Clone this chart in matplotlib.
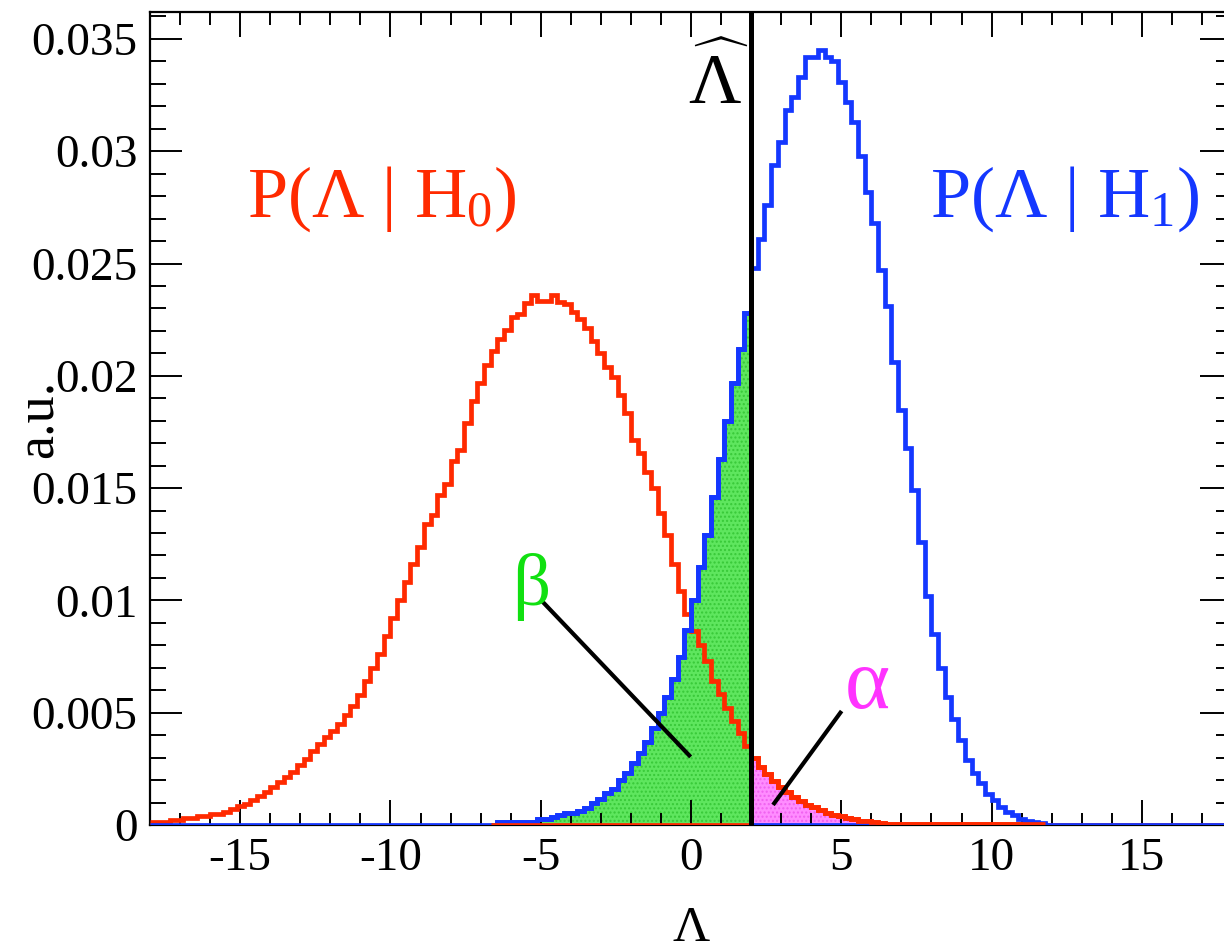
import numpy as np
import matplotlib
matplotlib.use("Agg")
import matplotlib.pyplot as plt
from matplotlib.ticker import FixedLocator, MultipleLocator

plt.rcParams['font.family'] = ['Liberation Serif', 'DejaVu Serif']
plt.rcParams['mathtext.fontset'] = 'custom'
plt.rcParams['mathtext.rm'] = 'Liberation Serif'
plt.rcParams['mathtext.it'] = 'Liberation Serif:italic'
plt.rcParams['axes.unicode_minus'] = False
plt.rcParams['hatch.linewidth'] = 1.0

# ---- histogram binning ----
X_MIN, X_MAX, N_BINS = -18.0, 18.0, 162
Y_MAX = 0.0362
LAMBDA_CUT = 2.0          # position of the decision threshold Lambda-hat
FILL_LO = -6.67           # lower end of the shaded alpha / beta histograms
BETA_HI = 6.33            # upper end of the beta histogram
ALPHA_HI = 11.67          # upper end of the alpha histogram

# ---- bin contents, in units of 1e-3 ----
p_lambda_h0 = [
    0.12, 0.12, 0.13, 0.21, 0.22, 0.30, 0.33, 0.39, 0.41, 0.48,
    0.50, 0.60, 0.72, 0.83, 0.95, 1.12, 1.27, 1.48, 1.68, 1.93,
    2.15, 2.38, 2.65, 2.95, 3.30, 3.60, 3.90, 4.20, 4.50, 4.90,
    5.30, 5.80, 6.40, 7.00, 7.60, 8.40, 9.20, 10.0, 10.8, 11.6,
    12.4, 13.4, 13.8, 14.7, 15.2, 16.2, 16.7, 17.9, 18.9, 19.7,
    20.5, 21.1, 21.65, 22.05, 22.6, 22.75, 23.25, 23.6, 23.35, 23.35,
    23.6, 23.3, 23.2, 22.85, 22.55, 22.15, 21.55, 21.0, 20.4, 19.95,
    19.15, 18.35, 17.15, 16.55, 15.7, 15.0, 13.9, 12.9, 11.6, 10.4,
    9.4, 8.65, 8.0, 7.3, 6.4, 5.85, 5.2, 4.65, 4.1, 3.5,
    3.0, 2.6, 2.25, 1.95, 1.7, 1.45, 1.25, 1.05, 0.9, 0.78,
    0.66, 0.55, 0.46, 0.38, 0.31, 0.25, 0.2, 0.16, 0.13, 0.1,
    0.06, 0.06, 0.06, 0.06, 0.06, 0.06, 0.06, 0.06, 0.06, 0.06,
    0.06, 0.04, 0.04, 0.04, 0.04, 0.04, 0.04, 0.04, 0.04, 0.04,
    0.04, 0.04, 0.04, 0.04, 0.0, 0.0, 0.0, 0.0, 0.0, 0.0,
    0.0, 0.0, 0.0, 0.0, 0.0, 0.0, 0.0, 0.0, 0.0, 0.0,
    0.0, 0.0, 0.0, 0.0, 0.0, 0.0, 0.0, 0.0, 0.0, 0.0,
    0.0, 0.0,
]

p_lambda_h1 = [
    0.0, 0.0, 0.0, 0.0, 0.0, 0.0, 0.0, 0.0, 0.0, 0.0,
    0.0, 0.0, 0.0, 0.0, 0.0, 0.0, 0.0, 0.0, 0.0, 0.0,
    0.0, 0.0, 0.0, 0.0, 0.0, 0.0, 0.0, 0.0, 0.0, 0.0,
    0.0, 0.0, 0.0, 0.0, 0.0, 0.0, 0.0, 0.0, 0.0, 0.0,
    0.0, 0.0, 0.0, 0.0, 0.0, 0.0, 0.0, 0.0, 0.0, 0.0,
    0.0, 0.0, 0.15, 0.15, 0.15, 0.15, 0.15, 0.15, 0.25, 0.25,
    0.37, 0.44, 0.52, 0.52, 0.64, 0.77, 0.96, 1.14, 1.41, 1.6,
    2.0, 2.3, 2.74, 3.2, 3.7, 4.3, 5.0, 5.7, 6.5, 7.5,
    8.7, 10.0, 11.5, 12.9, 14.6, 16.3, 18.0, 19.7, 21.2, 22.8,
    24.8, 26.1, 27.6, 29.4, 30.4, 31.85, 32.4, 33.3, 34.2, 34.2,
    34.5, 34.2, 34.0, 33.1, 32.2, 31.3, 29.8, 28.2, 26.8, 24.7,
    23.1, 20.6, 18.5, 16.8, 14.9, 12.6, 10.2, 8.5, 7.0, 5.7,
    4.7, 3.8, 2.9, 2.3, 1.85, 1.4, 1.1, 0.82, 0.6, 0.44,
    0.25, 0.2, 0.15, 0.07, 0.0, 0.0, 0.0, 0.0, 0.0, 0.0,
    0.0, 0.0, 0.0, 0.0, 0.0, 0.0, 0.0, 0.0, 0.0, 0.0,
    0.0, 0.0, 0.0, 0.0, 0.0, 0.0, 0.0, 0.0, 0.0, 0.0,
    0.0, 0.0,
]

x_ticks = [-15, -10, -5, 0, 5, 10, 15]
x_tick_labels = ['-15', '-10', '-5', '0', '5', '10', '15']
y_ticks = [0.0, 0.005, 0.01, 0.015, 0.02, 0.025, 0.03, 0.035]
y_tick_labels = ['0', '0.005', '0.01', '0.015', '0.02', '0.025', '0.03', '0.035']

RED = '#ff2a00'
BLUE = '#1437ff'
GREEN_TXT = '#11e011'
GREEN_FILL = '#5ee65e'
GREEN_DOTS = '#38c838'
MAGENTA_TXT = '#ff33ff'
MAGENTA_FILL = '#ff8cff'
MAGENTA_DOTS = '#f060f0'

h0 = np.array(p_lambda_h0) * 1e-3
h1 = np.array(p_lambda_h1) * 1e-3
edges = np.linspace(X_MIN, X_MAX, N_BINS + 1)
centers = 0.5 * (edges[:-1] + edges[1:])

fig = plt.figure(figsize=(12.24, 9.51), dpi=100)
ax = fig.add_axes([150 / 1224, 126 / 951, 1082 / 1224, 813 / 951])

# shaded tails: beta = H1 below the cut, alpha = H0 above the cut
beta_sel = (centers > FILL_LO) & (centers < BETA_HI)
alpha_sel = (centers > FILL_LO) & (centers < ALPHA_HI)
b_idx = np.where(beta_sel)[0]
a_idx = np.where(alpha_sel)[0]
beta_vals = np.where(centers[b_idx] < LAMBDA_CUT, h1[b_idx], 0.0)
alpha_vals = np.where(centers[a_idx] > LAMBDA_CUT, h0[a_idx], 0.0)
beta_edges = edges[b_idx[0]:b_idx[-1] + 2]
alpha_edges = edges[a_idx[0]:a_idx[-1] + 2]

ax.stairs(beta_vals, beta_edges, fill=True, facecolor=GREEN_FILL,
          edgecolor=GREEN_DOTS, hatch='....', linewidth=0, zorder=1)
ax.stairs(alpha_vals, alpha_edges, fill=True, facecolor=MAGENTA_FILL,
          edgecolor=MAGENTA_DOTS, hatch='....', linewidth=0, zorder=1)

# main distributions
ax.stairs(h0, edges, baseline=None, color=RED, lw=3.4, zorder=3)
ax.stairs(h1, edges, baseline=None, color=BLUE, lw=3.4, zorder=4)

# outlines of the shaded histograms
ax.stairs(beta_vals, beta_edges, baseline=None, color=BLUE, lw=3.4, zorder=5)
ax.stairs(alpha_vals, alpha_edges, baseline=None, color=RED, lw=3.4, zorder=5)

# threshold
ax.axvline(LAMBDA_CUT, color='black', lw=3.6, zorder=6)

# labels with pointers
ax.plot([-4.93, -0.06], [0.00993, 0.0031], color='black', lw=3.0, zorder=7)
ax.plot([4.97, 2.77], [0.0050, 0.00097], color='black', lw=3.0, zorder=7)

txt_size = 52
ax.text(-10.3, 0.0271, 'P(Λ | H$_0$)', color=RED, fontsize=txt_size,
        ha='center', va='baseline', zorder=8)
ax.text(12.45, 0.0271, 'P(Λ | H$_1$)', color=BLUE, fontsize=txt_size,
        ha='center', va='baseline', zorder=8)
ax.text(0.9, 0.0321, r'$\widehat{\Lambda}$', color='black', fontsize=txt_size,
        ha='center', va='baseline', zorder=8)
ax.text(-5.3, 0.0098, 'β', color=GREEN_TXT, fontsize=54,
        ha='center', va='baseline', zorder=8)
ax.text(5.85, 0.0052, 'α', color=MAGENTA_TXT, fontsize=62,
        ha='center', va='baseline', zorder=8)

ax.set_xlim(X_MIN, X_MAX)
ax.set_ylim(0, Y_MAX)

ax.xaxis.set_major_locator(FixedLocator(x_ticks))
ax.set_xticklabels(x_tick_labels)
ax.xaxis.set_minor_locator(MultipleLocator(1))
ax.yaxis.set_major_locator(FixedLocator(y_ticks))
ax.set_yticklabels(y_tick_labels)
ax.yaxis.set_minor_locator(MultipleLocator(0.001))

ax.tick_params(axis='both', which='both', direction='in', top=True, right=True,
               width=1.4, colors='black', labelsize=34)
ax.tick_params(axis='x', which='major', length=18, pad=9)
ax.tick_params(axis='x', which='minor', length=9)
ax.tick_params(axis='y', which='major', length=23, pad=9)
ax.tick_params(axis='y', which='minor', length=11.5)
for s in ax.spines.values():
    s.set_linewidth(1.6)
    s.set_zorder(2.5)

ax.set_xlabel('Λ', fontsize=37)
ax.xaxis.set_label_coords(0.5, -0.127)
ax.xaxis.label.set_va('center')
ax.set_ylabel('a.u.', fontsize=39)
ax.yaxis.set_label_coords(-0.102, 0.5)
ax.yaxis.label.set_va('center')

fig.savefig('out.png', dpi=100)
